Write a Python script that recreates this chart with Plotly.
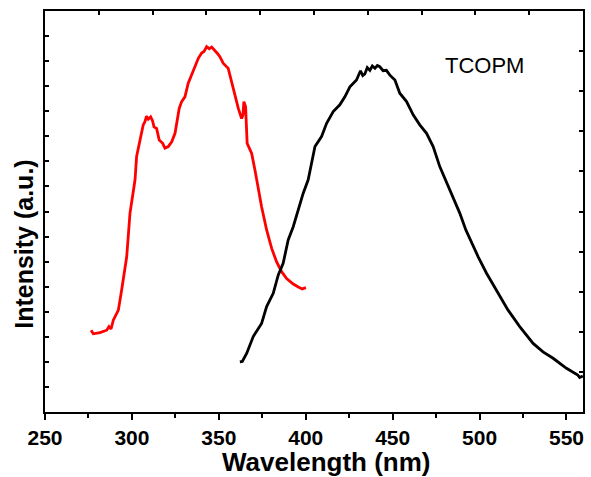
import plotly.graph_objects as go

# Excitation spectrum (red)
exc_x = [276.5, 277.8, 281.6, 285.5, 286.8, 288.0, 289.3, 292.2, 294.1, 297.0, 298.9, 300.8,
         301.8, 302.7, 304.6, 306.5, 307.5, 308.4, 309.4, 310.8, 311.9, 312.7, 314.2, 315.7,
         317.7, 319.0, 320.9, 322.9, 324.8, 327.2, 328.6, 330.5, 332.4, 335.3, 337.2, 338.2,
         340.1, 341.5, 343.0, 344.5, 345.9, 347.8, 349.2, 350.6, 352.5, 355.4, 357.4, 359.3,
         361.2, 363.1, 363.9, 364.4, 365.4, 366.3, 368.9, 370.8, 371.7, 374.6, 377.5, 380.4,
         383.2, 386.1, 389.0, 392.8, 395.7, 398.0, 400.1]
exc_y = [20.4, 19.5, 19.8, 20.4, 21.3, 20.7, 22.9, 25.4, 30.4, 38.7, 49.6, 55.5,
         57.9, 63.7, 67.8, 71.6, 72.4, 73.8, 73.0, 73.6, 72.6, 71.1, 70.7, 67.8,
         67.0, 65.8, 66.2, 67.4, 69.5, 75.7, 77.4, 78.6, 82.0, 84.9, 87.0, 88.2,
         89.5, 89.9, 91.1, 90.6, 91.0, 89.9, 89.4, 88.6, 87.0, 85.7, 82.4, 78.6,
         75.7, 73.2, 74.1, 77.4, 76.1, 67.0, 64.5, 60.3, 57.9, 51.2, 45.4, 40.8,
         37.5, 35.0, 33.3, 31.9, 31.2, 30.7, 31.0]

# Emission spectrum (black)
emi_x = [362.1, 363.5, 366.0, 369.8, 374.6, 377.5, 381.3, 384.2, 387.0, 389.9, 392.8, 395.7,
         398.5, 401.4, 403.4, 405.3, 409.1, 412.0, 415.8, 419.6, 422.5, 425.4, 429.2, 431.5,
         432.8, 434.0, 435.4, 436.9, 438.3, 439.8, 441.2, 442.6, 444.5, 446.4, 448.4, 451.3,
         454.1, 458.0, 461.8, 465.6, 469.5, 473.3, 477.1, 481.0, 484.8, 488.6, 492.1, 495.4,
         499.2, 504.0, 509.7, 516.4, 523.1, 530.8, 536.5, 542.3, 550.0, 553.0, 554.8, 556.5,
         557.6, 559.4]
emi_y = [12.5, 12.6, 14.6, 18.8, 22.1, 26.3, 29.6, 34.2, 37.1, 42.9, 46.2, 50.4,
         54.5, 57.9, 62.0, 66.2, 68.7, 72.0, 74.9, 76.6, 78.6, 81.1, 82.8, 85.1,
         83.9, 84.3, 85.9, 85.2, 86.3, 85.7, 86.4, 86.1, 85.1, 85.2, 84.0, 82.8,
         79.5, 77.4, 74.1, 71.6, 69.5, 66.2, 61.2, 57.4, 53.3, 49.6, 45.4, 42.1,
         38.7, 34.6, 30.4, 25.4, 21.3, 17.1, 15.0, 13.4, 10.9, 10.2, 9.7, 9.2,
         8.6, 9.0]

x_ticks = [250, 300, 350, 400, 450, 500, 550]
label_text = "TCOPM"
label_pos = (503, 86.5)
x_title = "Wavelength (nm)"
y_title = "Intensity (a.u.)"

font_family = "Liberation Sans, Arial, sans-serif"

fig = go.Figure()
fig.add_trace(go.Scatter(x=exc_x, y=exc_y, mode="lines",
                         line=dict(color="#ff0000", width=2.8), showlegend=False))
fig.add_trace(go.Scatter(x=emi_x, y=emi_y, mode="lines",
                         line=dict(color="#000000", width=2.8), showlegend=False))
# invisible trace to anchor the mirror (top/right) axes
fig.add_trace(go.Scatter(x=[0], y=[0], xaxis="x2", yaxis="y2", mode="markers",
                         marker=dict(opacity=0), showlegend=False, hoverinfo="skip"))

fig.add_annotation(x=label_pos[0], y=label_pos[1], text=label_text, showarrow=False,
                   font=dict(family=font_family, size=22, color="#000000"))
# axis titles (placed as in the reference, slightly off-centre)
fig.add_annotation(xref="paper", yref="paper", x=0.522, y=-0.1255, text=x_title,
                   showarrow=False, xanchor="center", yanchor="middle", borderpad=0,
                   font=dict(family=font_family, size=26, color="black", weight="bold"))
fig.add_annotation(xref="paper", yref="paper", x=-0.039, y=0.417, text=y_title,
                   showarrow=False, xanchor="center", yanchor="middle", textangle=-90,
                   font=dict(family=font_family, size=25, color="black", weight="bold"))

fig.update_layout(
    width=591, height=477,
    margin=dict(l=45, r=8, t=11, b=65),
    paper_bgcolor="white", plot_bgcolor="white",
    xaxis=dict(range=[250, 559.5], tickvals=x_ticks, ticks="outside", ticklen=6,
               tickwidth=1.5, tickcolor="black", automargin=False,
               minor=dict(dtick=25, tick0=250, ticks="outside", ticklen=4, tickwidth=1.5,
                          tickcolor="black", showgrid=False),
               showline=True, linewidth=1.5, linecolor="black", showgrid=False,
               zeroline=False,
               tickfont=dict(family=font_family, size=21, color="black", weight="bold")),
    yaxis=dict(range=[0, 100], dtick=6.25, tick0=0, ticks="inside", ticklen=4,
               tickwidth=1.5, tickcolor="black", showticklabels=False, automargin=False,
               showline=True, linewidth=1.5, linecolor="black", showgrid=False,
               zeroline=False),
    xaxis2=dict(overlaying="x", side="top", range=[0, 10], dtick=1, tick0=0,
                ticks="inside", ticklen=4, tickwidth=1.5, tickcolor="black",
                showticklabels=False, showline=True, linewidth=1.5, linecolor="black",
                showgrid=False, zeroline=False),
    yaxis2=dict(overlaying="y", side="right", range=[0, 10], dtick=1, tick0=0,
                ticks="inside", ticklen=4, tickwidth=1.5, tickcolor="black",
                showticklabels=False, showline=True, linewidth=1.5, linecolor="black",
                showgrid=False, zeroline=False),
)

fig.write_html("out.html")
